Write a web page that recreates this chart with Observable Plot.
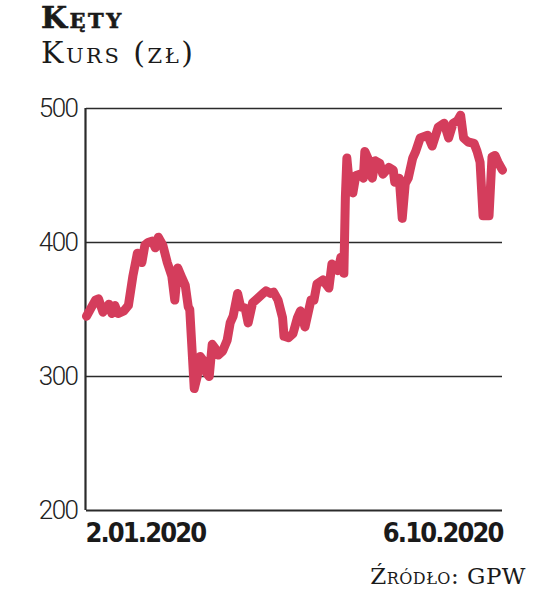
<!DOCTYPE html>
<html>
<head>
<meta charset="utf-8">
<script src="https://cdn.jsdelivr.net/npm/d3@7"></script>
<script src="https://cdn.jsdelivr.net/npm/@observablehq/plot@0.6"></script>
<style>
  html, body { margin: 0; padding: 0; background: #fff; }
  body { width: 542px; height: 593px; overflow: hidden; font-family: "DejaVu Serif", serif; color: #1a1a1a; }
  #title { position: absolute; left: 41px; top: 0px; font-size: 30px; line-height: 35px; font-weight: 900; font-variant: small-caps; letter-spacing: 2.5px; -webkit-text-stroke: 0.6px #1a1a1a; }
  #subtitle { position: absolute; left: 41px; top: 35px; font-size: 30px; line-height: 35px; font-weight: normal; font-variant: small-caps; letter-spacing: 2.5px; }
  #chart { position: absolute; left: 0; top: 80px; }
  #source { position: absolute; right: 16px; top: 563px; font-size: 23px; font-variant: small-caps; line-height: 27px; letter-spacing: 0.5px; }
</style>
</head>
<body>
<div id="title">Kęty</div>
<div id="subtitle">Kurs (zł)</div>
<div id="chart"></div>
<div id="source">Źródło: GPW</div>
<script>
const dates = [
  "2020-01-02","2020-01-05","2020-01-08","2020-01-10","2020-01-13","2020-01-17","2020-01-19","2020-01-21","2020-01-23","2020-01-27","2020-01-30",
  "2020-02-02","2020-02-05","2020-02-07","2020-02-08","2020-02-10","2020-02-12","2020-02-15","2020-02-17","2020-02-19","2020-02-22","2020-02-25","2020-02-28",
  "2020-03-01","2020-03-03","2020-03-06","2020-03-08","2020-03-10","2020-03-11","2020-03-14","2020-03-16","2020-03-18","2020-03-20","2020-03-22","2020-03-24","2020-03-26","2020-03-28","2020-03-30",
  "2020-04-02","2020-04-05","2020-04-07","2020-04-09","2020-04-12","2020-04-14","2020-04-17","2020-04-19","2020-04-22","2020-04-25","2020-04-29",
  "2020-05-01","2020-05-04","2020-05-06","2020-05-09","2020-05-12","2020-05-13","2020-05-16","2020-05-19","2020-05-22","2020-05-24","2020-05-27","2020-05-31",
  "2020-06-02","2020-06-04","2020-06-08","2020-06-12","2020-06-14","2020-06-18","2020-06-20","2020-06-22","2020-06-23","2020-06-24","2020-06-26","2020-06-28","2020-06-30",
  "2020-07-03","2020-07-05","2020-07-06","2020-07-08","2020-07-11","2020-07-13","2020-07-16","2020-07-18","2020-07-22","2020-07-25","2020-07-26","2020-07-29","2020-07-31",
  "2020-08-02","2020-08-04","2020-08-07","2020-08-09","2020-08-12","2020-08-17","2020-08-20","2020-08-24","2020-08-28","2020-08-31",
  "2020-09-03","2020-09-06","2020-09-08","2020-09-10","2020-09-13","2020-09-17","2020-09-19","2020-09-21","2020-09-23","2020-09-27","2020-09-29",
  "2020-10-01","2020-10-03","2020-10-06"
];
const prices = [
  345,351,357,358,348,354,347,353,347,349,353,
  375,392,389,385,398,400,401,396,404,398,385,375,
  357,381,373,368,352,350,291,300,315,312,303,300,324,321,316,
  319,327,340,345,362,352,351,340,355,358,362,
  364,362,363,357,344,330,329,332,344,349,337,357,
  357,369,372,366,384,379,389,377,434,463,439,437,450,
  451,448,468,463,448,461,459,451,456,454,445,448,418,
  444,448,463,468,478,480,472,486,489,478,
  489,491,495,478,475,474,468,460,420,420,464,
  465,460,454
];
const yTicks = [200, 300, 400, 500];
const xLabelDates = ["2020-01-02", "2020-10-06"];
const xLabelTexts = ["2.01.2020", "6.10.2020"];

const data = dates.map((d, i) => ({date: new Date(d), value: prices[i]}));
const start = new Date(dates[0]);
const end = new Date(dates[dates.length - 1]);
const yFont = "Roboto, 'DejaVu Sans Condensed', sans-serif";
const xFont = "'DejaVu Sans Condensed', 'DejaVu Sans', sans-serif";

const chart = Plot.plot({
  width: 542,
  height: 470,
  marginLeft: 86,
  marginRight: 40,
  marginTop: 28,
  marginBottom: 40,
  x: {type: "utc", domain: [start, end], axis: null},
  y: {domain: [200, 500], axis: null},
  style: {background: "transparent", overflow: "visible"},
  marks: [
    Plot.ruleY(yTicks.slice(1), {stroke: "#2b2b2b", strokeWidth: 1.5}),
    Plot.ruleY([yTicks[0]], {stroke: "#2b2b2b", strokeWidth: 2.2}),
    Plot.ruleX([start], {y1: 200, y2: 500, stroke: "#2b2b2b", strokeWidth: 2.2, dx: -1}),
    Plot.line(data, {x: "date", y: "value", stroke: "#d43d5c", strokeWidth: 9, strokeLinejoin: "round", strokeLinecap: "round"}),
    Plot.text(yTicks, {x: start, y: d => d, text: d => String(d), textAnchor: "end", dx: -9, fontSize: 26, fontWeight: 300, fill: "#222", fontFamily: yFont}),
    Plot.text([0], {x: new Date(xLabelDates[0]), y: 200, text: () => xLabelTexts[0], textAnchor: "start", dy: 23, dx: -1, fontSize: 27, fontWeight: "bold", fill: "#1a1a1a", fontFamily: xFont}),
    Plot.text([1], {x: new Date(xLabelDates[1]), y: 200, text: () => xLabelTexts[1], textAnchor: "end", dy: 23, dx: 0, fontSize: 27, fontWeight: "bold", fill: "#1a1a1a", fontFamily: xFont})
  ]
});
d3.select(chart).selectAll("text").each(function() {
  const t = this.textContent;
  if (xLabelTexts.includes(t)) this.setAttribute("letter-spacing", "-1.9");
  else if (yTicks.map(String).includes(t)) this.setAttribute("letter-spacing", "-1.5");
});
document.getElementById("chart").appendChild(chart);
</script>
</body>
</html>
